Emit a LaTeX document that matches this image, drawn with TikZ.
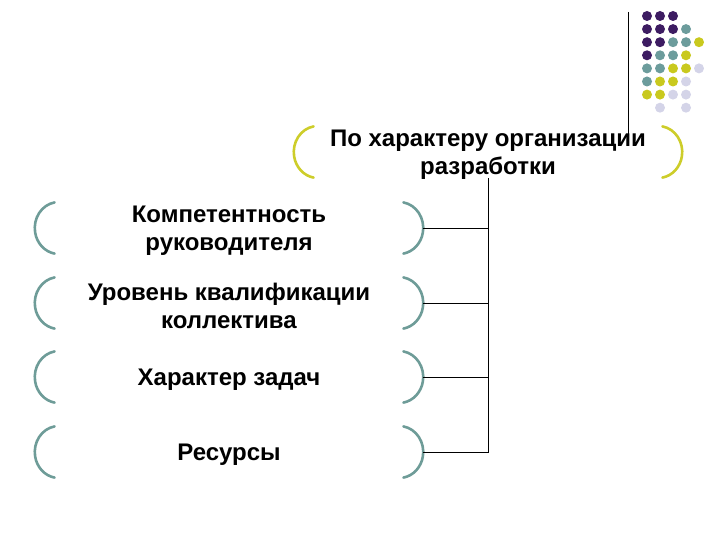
\documentclass[tikz,border=0pt]{standalone}
\usepackage{fontspec}
\setmainfont{Liberation Sans}
\usepackage{xcolor}
\usepackage{tikz}
\usetikzlibrary{positioning}

\definecolor{dotP}{HTML}{3D1C62}
\definecolor{dotT}{HTML}{6C9C9C}
\definecolor{dotY}{HTML}{C9C91E}
\definecolor{dotL}{HTML}{D4D4E8}
\definecolor{dotN}{HTML}{FFFFFF}
\definecolor{brTeal}{HTML}{6E9C98}
\definecolor{brYellow}{HTML}{CDCD2A}

\begin{document}
\begin{tikzpicture}[
    x=1pt, y=1pt,
    item/.style={align=center, minimum width=388pt, minimum height=52pt, inner sep=0pt, font=\fontsize{24}{28}\selectfont\bfseries},
    lbr/.style={line width=2.6pt, line cap=round},
    link/.style={line width=0.8pt}
]
\useasboundingbox (0,0) rectangle (720,540);

% dots in the corner
\foreach \row [count=\r] in {{P,P,P},{P,P,P,T},{P,P,T,T,Y},{P,T,T,Y},{T,T,Y,Y,L},{T,Y,Y,L},{Y,Y,L,L},{N,L,N,L}} {
  \foreach \c [count=\i] in \row {
    \fill[dot\c] ({647+13*(\i-1)},{524-13.1*(\r-1)}) circle[radius=5pt];
  }
}
\coordinate (rule top) at (628,528);
\coordinate (rule end) at (628,405);
\draw[link] (rule top) -- (rule end);

\node[item] (org) at (488,385) {По характеру организации\\разработки};
\node[item] (comp) at (229,309) {Компетентность\\руководителя};
\node[item] (qual) at (229,234) {Уровень квалификации\\коллектива};
\node[item] (task) at (229,160) {Характер задач};
\node[item] (res) at (229,85) {Ресурсы};

% brackets
\foreach \n/\col in {org/brYellow,comp/brTeal,qual/brTeal,task/brTeal,res/brTeal} {
  \draw[lbr, \col] ([xshift=19.8pt,yshift=28.6pt]\n.west) arc[start angle=100, end angle=260, x radius=24pt, y radius=26pt];
  \draw[lbr, \col] ([xshift=-19.8pt,yshift=28.6pt]\n.east) arc[start angle=80, end angle=-80, x radius=24pt, y radius=26pt];
}

\draw[link] ([yshift=3pt]org.south) |- ([yshift=3pt]res.east);
\foreach \n in {comp,qual,task} {
  \draw[link] ([yshift=3pt]\n.east) -- ([yshift=3pt]\n.east -| org.south);
}
\end{tikzpicture}
\end{document}
